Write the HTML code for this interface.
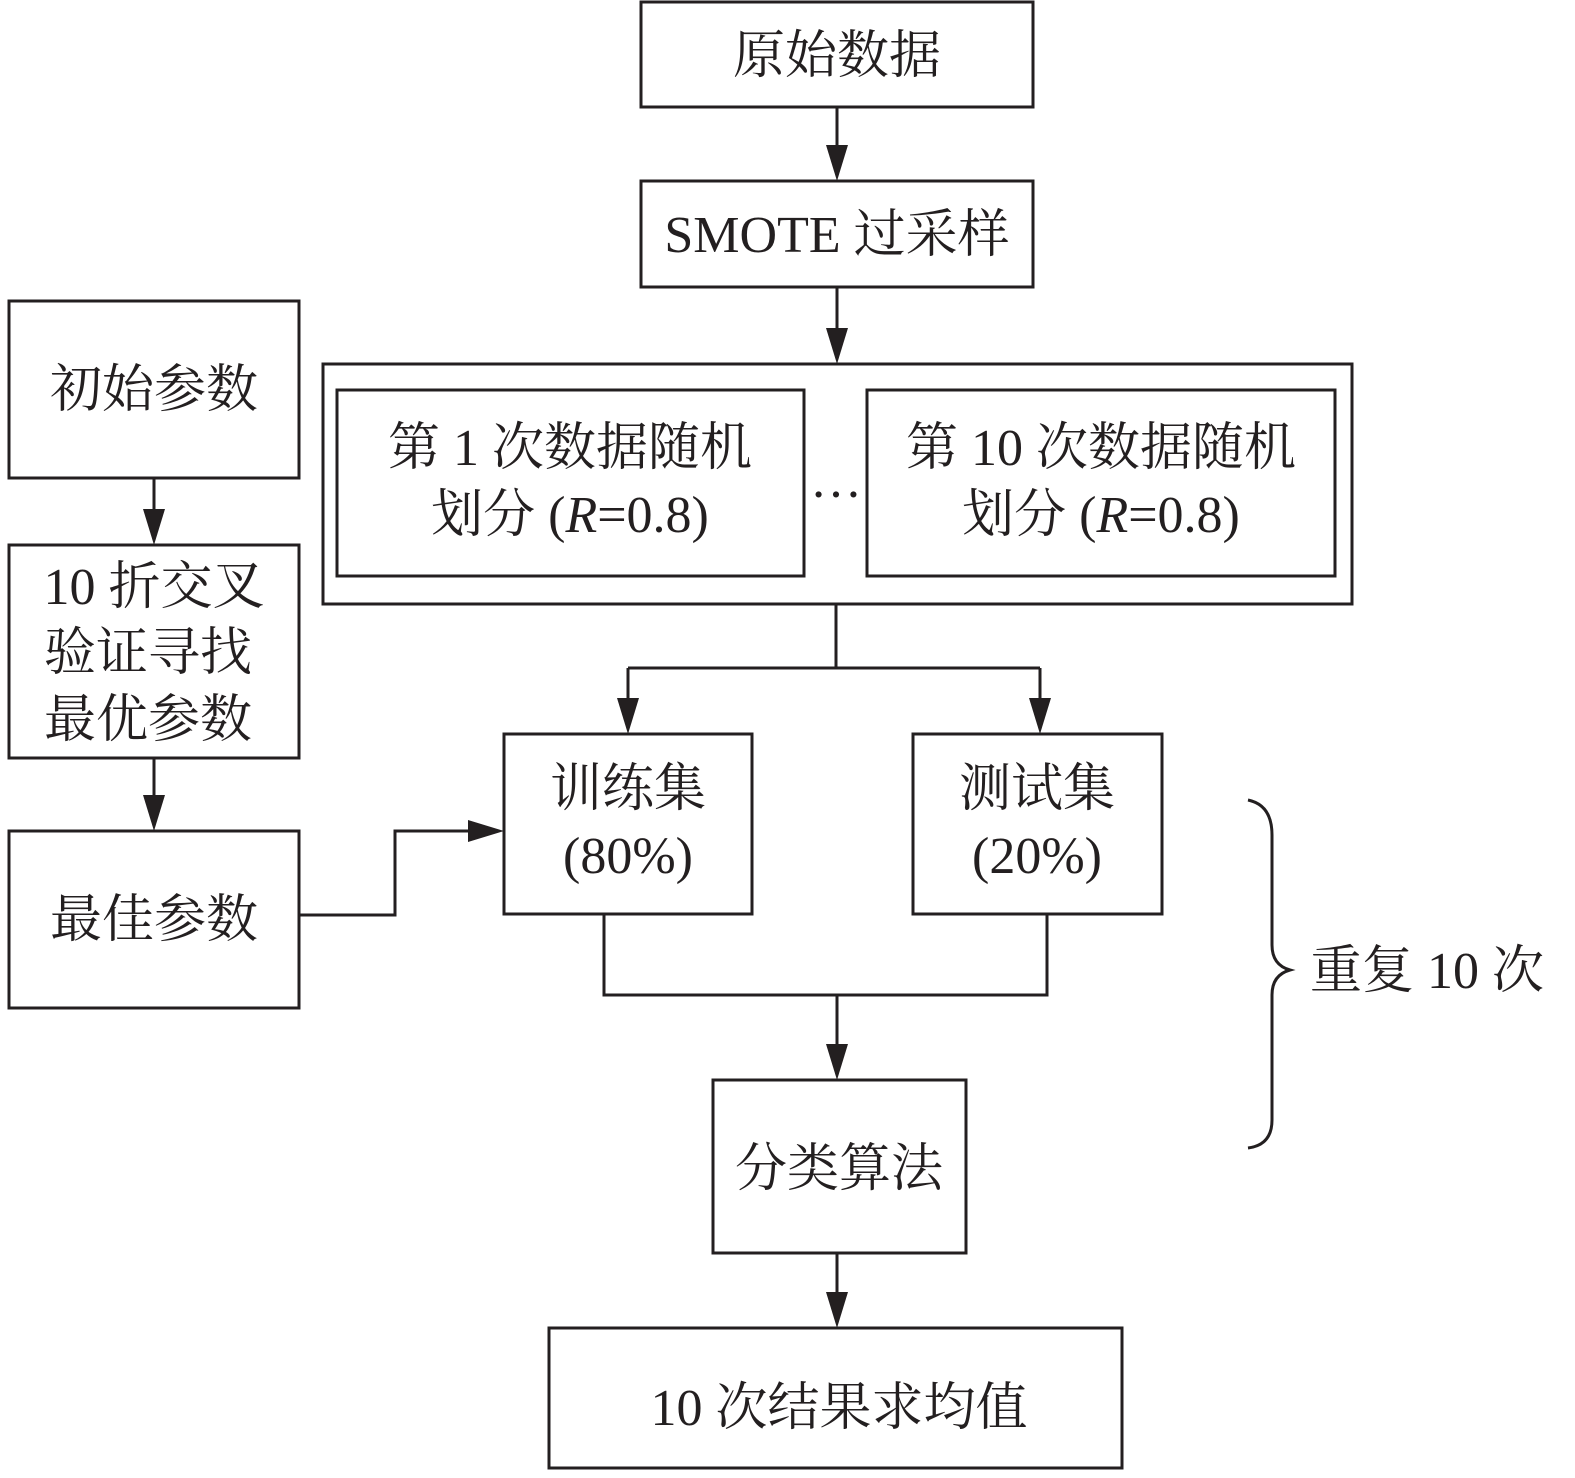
<!DOCTYPE html>
<html><head><meta charset="utf-8"><style>
html,body{margin:0;padding:0;background:#fff;}
svg{display:block;}
text{font-family:"Liberation Serif","Noto Serif CJK SC",serif;font-size:52px;fill:#231f20;}
</style></head><body>
<svg width="1575" height="1478" viewBox="0 0 1575 1478" xmlns="http://www.w3.org/2000/svg">
<defs><marker id="a" markerWidth="10" markerHeight="10" refX="10" refY="5" orient="auto" markerUnits="userSpaceOnUse" viewBox="0 0 10 10"><path d="M0,0 L10,5 L0,10 z" fill="#231f20"/></marker></defs>
<g fill="none" stroke="#231f20" stroke-width="3">
<rect x="641" y="2" width="392" height="105"/>
<rect x="641" y="181" width="392" height="106"/>
<rect x="323" y="364" width="1029" height="240"/>
<rect x="337" y="390" width="467" height="186"/>
<rect x="867" y="390" width="468" height="186"/>
<rect x="9" y="301" width="290" height="177"/>
<rect x="9" y="545" width="290" height="213"/>
<rect x="9" y="831" width="290" height="177"/>
<rect x="504" y="734" width="248" height="180"/>
<rect x="913" y="734" width="249" height="180"/>
<rect x="713" y="1080" width="253" height="173"/>
<rect x="549" y="1328" width="573" height="140"/>
<path d="M836,604 V668 M628,668 H1040 M604,914 V995 H1047 V914 M299,915 H395 V831 H470"/>
<path d="M837,107 V145 M837,287 V328 M628,668 V698 M1040,668 V698 M837,995 V1044 M837,1253 V1292 M154,478 V509 M154,758 V795"/>
<path d="M1248,800 Q1272,805 1272,835 V945 Q1272,965 1290,970 Q1272,975 1272,995 V1120 Q1272,1145 1248,1148"/>
</g>
<g fill="#231f20">
<path d="M826,145 L848,145 L837,181 z"/>
<path d="M826,328 L848,328 L837,364 z"/>
<path d="M617,698 L639,698 L628,734 z"/>
<path d="M1029,698 L1051,698 L1040,734 z"/>
<path d="M826,1044 L848,1044 L837,1080 z"/>
<path d="M826,1292 L848,1292 L837,1328 z"/>
<path d="M143,509 L165,509 L154,545 z"/>
<path d="M143,795 L165,795 L154,831 z"/>
<path d="M468,820 L468,842 L504,831 z"/>
</g>
<g text-anchor="middle">
<text x="837" y="73">原始数据</text>
<text x="837" y="252">SMOTE 过采样</text>
<text x="570" y="465">第 1 次数据随机</text>
<text x="570" y="532">划分 (<tspan font-style="italic">R</tspan>=0.8)</text>
<text x="1101" y="465">第 10 次数据随机</text>
<text x="1101" y="532">划分 (<tspan font-style="italic">R</tspan>=0.8)</text>
<text x="836" y="497">…</text>
<text x="154" y="407">初始参数</text>
<text x="154" y="604">10 折交叉</text>
<text x="148" y="670">验证寻找</text>
<text x="148" y="737">最优参数</text>
<text x="154" y="937">最佳参数</text>
<text x="628" y="806">训练集</text>
<text x="628" y="873">(80%)</text>
<text x="1037" y="806">测试集</text>
<text x="1037" y="873">(20%)</text>
<text x="839" y="1186">分类算法</text>
<text x="839" y="1425">10 次结果求均值</text>
</g>
<text x="1310" y="988">重复 10 次</text>
</svg>
</body></html>
